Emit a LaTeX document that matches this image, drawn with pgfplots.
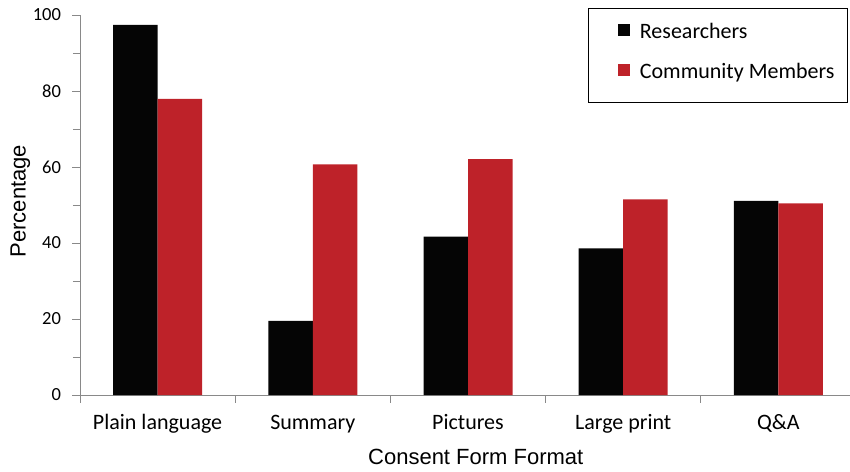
\documentclass[border=0pt]{standalone}
\usepackage{pgfplots}
\pgfplotsset{compat=1.18}
\usepackage{fontspec}
\setmainfont{Carlito}
\newfontfamily\arialfont{Liberation Sans}
\definecolor{resblack}{HTML}{050505}
\definecolor{comred}{HTML}{BE2229}
\definecolor{axisgray}{HTML}{898989}

\begin{document}
\begin{tikzpicture}
\path[use as bounding box] (0pt,0pt) rectangle (850pt,471pt);
\begin{axis}[
  at={(80pt,76pt)}, anchor=south west,
  scale only axis, width=776pt, height=380pt,
  xmin=-0.5, xmax=4.5, ymin=0, ymax=100,
  ybar=0pt, bar width=44.5pt,
  axis x line=bottom, axis y line=left,
  axis line style={-, draw=axisgray, line width=0.9pt},
  tick align=outside,
  tick style={draw=axisgray, line width=0.9pt},
  major tick length=7.5pt, minor tick length=7pt,
  % category boundaries carry the ticks; names are shifted to the middle of each slot
  xtick={-0.5,0.5,1.5,2.5,3.5,4.5},
  xticklabels={Plain language,Summary,Pictures,Large print,Q\&A,{}},
  xticklabel style={font=\fontsize{22}{26}\selectfont, anchor=base, xshift=77.6pt, yshift=-27pt},
  ytick={0,20,...,100}, minor y tick num=1,
  yticklabel style={font=\fontsize{18.5}{22}\selectfont, xshift=-8pt},
  /pgf/number format/assume math mode=true,
  xlabel={Consent Form Format},
  ylabel={Percentage},
  xlabel style={font=\arialfont\fontsize{22}{26}\selectfont, at={(axis description cs:0.51,-0.184)}, anchor=base},
  ylabel style={font=\arialfont\fontsize{22}{26}\selectfont, at={(axis description cs:-0.077,0.51)}, anchor=center},
  legend cell align=left,
  legend style={at={(rel axis cs:0.9897,1.018)}, anchor=north east,
    draw=black, line width=0.9pt, fill=white,
    inner xsep=13pt, inner ysep=15pt, row sep=16pt, column sep=10pt,
    font=\fontsize{22}{26}\selectfont,
    nodes={inner sep=0pt, text height=15pt, text depth=9pt}},
  legend image code/.code={\path[#1,draw=none] (0pt,0pt) rectangle (12pt,11.5pt); \path (-16pt,0pt);},
]
\addplot[fill=resblack, draw=none] coordinates {(0,97.4) (1,19.5) (2,41.7) (3,38.6) (4,51.1)};
\addplot[fill=comred, draw=none] coordinates {(0,77.9) (1,60.7) (2,62.1) (3,51.5) (4,50.4)};
\legend{Researchers, Community Members}
\end{axis}
\end{tikzpicture}
\end{document}
